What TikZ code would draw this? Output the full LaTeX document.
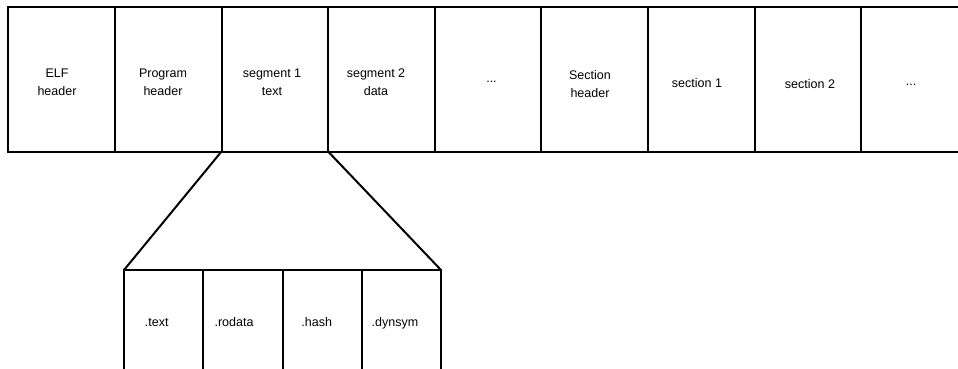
\documentclass[tikz,border=0pt]{standalone}
\usepackage{fontspec}
\setmainfont{Liberation Sans}
\begin{document}
\begin{tikzpicture}[x=1pt,y=-1pt,
  cell/.style={draw=black, line width=2pt, inner sep=0pt, outer sep=0pt,
    minimum width=106.6pt, minimum height=144.5pt, anchor=north west},
  sub/.style={draw=black, line width=2pt, inner sep=0pt, outer sep=0pt,
    minimum width=79.25pt, minimum height=140pt, anchor=north west},
  lbl/.style={font=\fontsize{12.5}{18}\selectfont, align=center, inner sep=0pt, text=black},
  link/.style={draw=black, line width=2pt}]
\useasboundingbox (0,0) rectangle (958,369);
\clip (0,0) rectangle (958,369);
% top row
\node[cell] (elf)   at (8.3,7) {};
\node[cell] (prog)  at (114.9,7) {};
\node[cell] (seg1)  at (221.5,7) {};
\node[cell] (seg2)  at (328.1,7) {};
\node[cell] (dotsA) at (434.7,7) {};
\node[cell] (shdr)  at (541.3,7) {};
\node[cell] (sec1)  at (647.9,7) {};
\node[cell] (sec2)  at (754.5,7) {};
\node[cell] (dotsB) at (861.1,7) {};
% labels of the top row
\node[lbl] (elfT)   at (57,82)  {ELF\\header};
\node[lbl] (progT)  at (163,82) {Program\\header};
\node[lbl] (seg1T)  at (272,82) {segment 1\\text};
\node[lbl] (seg2T)  at (376,82) {segment 2\\data};
\node[lbl] (dotsAT) at (491.5,82) {...};
\node[lbl] (shdrT)  at (590,84) {Section\\header};
\node[lbl] (sec1T)  at (697,83) {section 1};
\node[lbl] (sec2T)  at (810,84) {section 2};
\node[lbl] (dotsBT) at (911,85) {...};
% bottom row
\node[sub] (stext)   at (124,270) {};
\node[sub] (srodata) at (203.25,270) {};
\node[sub] (shash)   at (282.5,270) {};
\node[sub] (sdynsym) at (361.75,270) {};
\node[lbl, anchor=base] (stextT)   at (156.7,326) {.text};
\node[lbl, anchor=base] (srodataT) at (234,326) {.rodata};
\node[lbl, anchor=base] (shashT)   at (316.7,326) {.hash};
\node[lbl, anchor=base] (sdynsymT) at (395,326) {.dynsym};
% connectors
\draw[link] (seg1.south west) -- (stext.north west);
\draw[link] (seg1.south east) -- (sdynsym.north east);
\end{tikzpicture}
\end{document}
